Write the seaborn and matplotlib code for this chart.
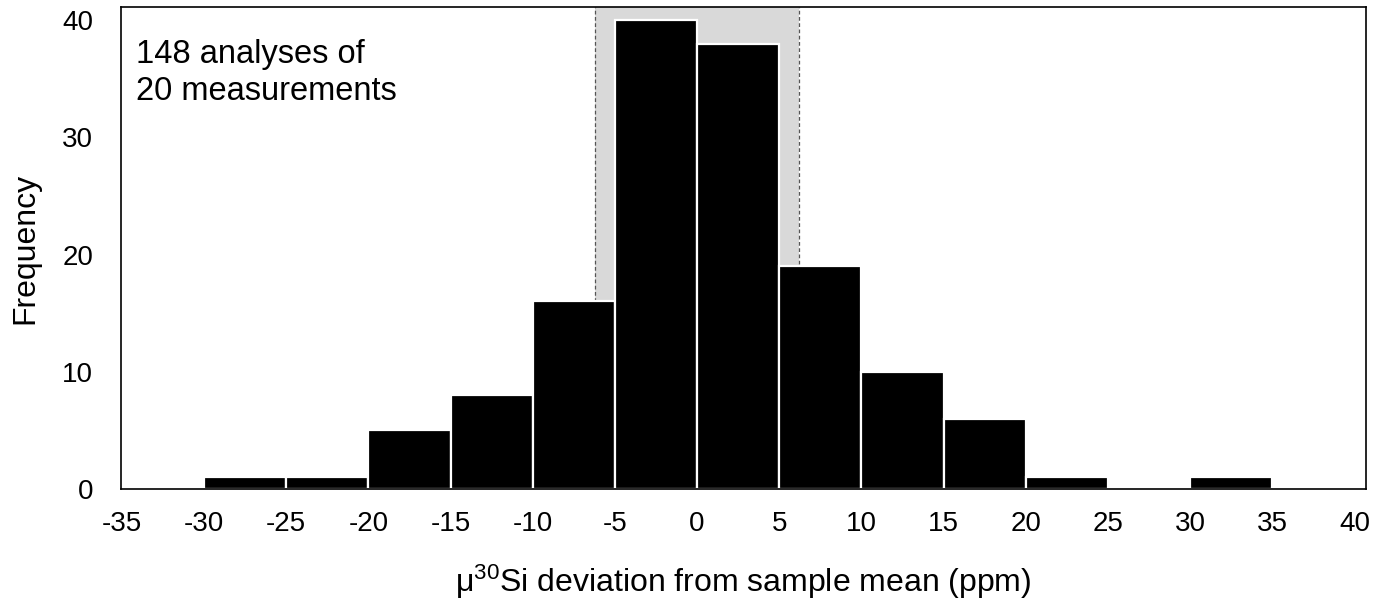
import matplotlib
matplotlib.use("Agg")
import matplotlib.pyplot as plt
import seaborn as sns
import numpy as np

# histogram counts per 5 ppm bin
bin_edges = [-30, -25, -20, -15, -10, -5, 0, 5, 10, 15, 20, 25, 30, 35]
counts = [1, 1, 5, 8, 16, 40, 38, 19, 10, 6, 1, 0, 1]
shade_lo, shade_hi = -6.2, 6.2
x_ticks = list(range(-35, 45, 5))
y_ticks = [0, 10, 20, 30, 40]
note = "148 analyses of\n20 measurements"

sns.set_theme(style="white")
plt.rcParams["font.family"] = ["Liberation Sans", "DejaVu Sans"]
plt.rcParams["axes.unicode_minus"] = False
plt.rcParams["mathtext.default"] = "regular"
plt.rcParams["text.color"] = "black"
plt.rcParams["axes.labelcolor"] = "black"
plt.rcParams["xtick.color"] = "black"
plt.rcParams["ytick.color"] = "black"

centers = [(a + b) / 2 for a, b in zip(bin_edges[:-1], bin_edges[1:])]

fig = plt.figure(figsize=(13.82, 6), dpi=100)
ax = fig.add_axes([0.0876, 0.185, 0.9008, 0.803])

# shaded band with dashed edges
ax.axvspan(shade_lo, shade_hi, color="#d9d9d9", zorder=0, lw=0)
for xv in (shade_lo, shade_hi):
    ax.axvline(xv, color="#555555", ls=(0, (3, 2)), lw=0.9, zorder=0.5)

sns.histplot(x=centers, weights=counts, bins=bin_edges, ax=ax,
             color="black", alpha=1, edgecolor="white", linewidth=1.6, zorder=2)

ax.set_xlim(-35.05, 40.7)
ax.set_ylim(0, 41.1)
ax.set_xticks(x_ticks)
ax.set_yticks(y_ticks)
ax.tick_params(axis="x", labelsize=20, length=0, pad=16)
ax.tick_params(axis="y", labelsize=20, length=0, pad=20)
for s in ax.spines.values():
    s.set_color("black")
    s.set_linewidth(1.2)

ax.set_xlabel(r"μ$^{30}$Si deviation from sample mean (ppm)", fontsize=23, labelpad=18)
ax.set_ylabel("Frequency", fontsize=23, labelpad=16)

ax.text(0.012, 0.935, note, transform=ax.transAxes, fontsize=23.5,
        va="top", ha="left", linespacing=1.25)

fig.savefig("out.png", dpi=100)
